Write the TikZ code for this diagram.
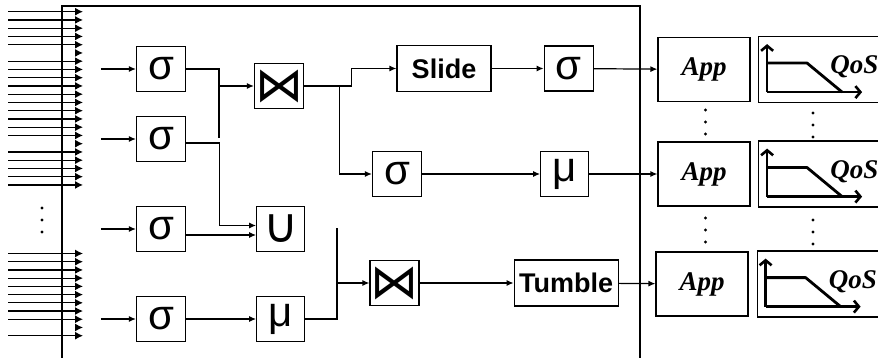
\documentclass[tikz,border=0pt]{standalone}
\usepackage{fontspec}
\setmainfont{Liberation Sans}
\newfontfamily\opfont{DejaVu Sans}
\newfontfamily\appfont{Liberation Serif}
\usetikzlibrary{arrows.meta, positioning}

\begin{document}
\begin{tikzpicture}[
                    x=1pt, y=-1pt,
                    node distance=20pt,
                    op/.style={rectangle, draw, line width=1.2pt, minimum width=49pt, minimum height=45pt, inner sep=0pt, font=\fontsize{42}{42}\selectfont},
                    joinop/.style={op, font=\opfont\fontsize{48}{48}\selectfont},
                    unionop/.style={op, font=\opfont\fontsize{48}{48}\selectfont},
                    window/.style={op, minimum width=94pt, minimum height=46pt, font=\bfseries\fontsize{27}{27}\selectfont},
                    app/.style={rectangle, draw, line width=1.2pt, minimum width=92pt, minimum height=64pt, inner sep=0pt, font=\appfont\bfseries\itshape\fontsize{27}{27}\selectfont},
                    qosbox/.style={rectangle, draw, line width=1.2pt, minimum width=130pt, minimum height=66pt},
                    qoslabel/.style={inner sep=0pt, anchor=west, font=\appfont\bfseries\itshape\fontsize{27}{27}\selectfont},
                    curve/.style={line width=2.6pt, -{Straight Barb[length=5pt,width=12pt]}},
                    wire/.style={draw, line width=1.2pt},
                    line/.style={draw, line width=1.2pt, -{Latex[length=7pt,width=6pt]}},
                    feed/.style={draw, line width=1.2pt, -{Latex[length=8pt,width=8pt]}}
                ]
                    \useasboundingbox (0,0) rectangle (878,358);

                    % Operator network frame
                    \draw[wire] (62,358) |- (640,6) -- (640,358);

                    % Incoming streams
                    \foreach \k in {0,...,21}
                        \draw[feed] (75,{11.7+8.25*\k}) -- (83,{11.7+8.25*\k});
                    \foreach \k in {0,1,2,3,4,6,7,8,9,10,11,12,13,14,15,17,18,19,20,21}
                        \draw[wire] (8,{11.7+8.25*\k}) -- (78,{11.7+8.25*\k});
                    \foreach \k in {0,...,10}
                        \draw[feed] (75,{253.5+8.22*\k}) -- (83,{253.5+8.22*\k});
                    \foreach \k in {0,1,2,3,4,5,6,7,8,10}
                        \draw[wire] (8,{253.5+8.22*\k}) -- (78,{253.5+8.22*\k});
                    \foreach \y in {208,220,232}
                        \fill (42,\y) circle (1.7pt);

                    % Place nodes
                    \node [op] (sig1) at (161,69) {σ};
                    \node [op] (sig2) at (161,139) {σ};
                    \node [op] (sig3) at (161,229) {σ};
                    \node [op] (sig4) at (161,319) {σ};
                    \node [joinop] (join1) at (279,86) {⋈};
                    \node [unionop, minimum width=48pt, right=70pt of sig3] (union) {∪};
                    \node [op, minimum width=48pt, right=70pt of sig4] (mub) {μ};
                    \node [joinop] (join2) at (394.5,283) {⋈};
                    \node [window] (slide) at (444,68.5) {Slide};
                    \node [op, right=52pt of slide] (sigt) {σ};
                    \node [op] (sigm) at (397,174) {σ};
                    \node [op, minimum width=48pt, right=118pt of sigm] (mum) {μ};
                    \node [window, minimum width=104pt, right=94pt of join2] (tumble) {Tumble};
                    \node [app] (app1) at (704,69.5) {App};
                    \node [app] (app2) at (704,174) {App};
                    \node [app] (app3) at (702,284) {App};
                    \node [qosbox, right=7.5pt of app1] (qos1) {};
                    \node [qosbox, right=7.5pt of app2] (qos2) {};
                    \node [qosbox, right=8pt of app3] (qos3) {};

                    % QoS graphs
                    \foreach \q in {qos1,qos2,qos3} {
                        \draw[curve] ([shift={(9,-11)}]\q.south west) -- ([shift={(9,-59)}]\q.south west);
                        \draw[curve] ([shift={(9,-11)}]\q.south west) -- ([shift={(104,-11)}]\q.south west);
                        \draw[line width=2.8pt, line join=round] ([shift={(9,-40)}]\q.south west) -- ([shift={(49,-40)}]\q.south west) -- ([shift={(84,-11)}]\q.south west);
                        \node[qoslabel] (\q-lab) at ([shift={(72,-36)}]\q.south west) {QoS};
                    }
                    \foreach \y in {110,122,134,218,230,242}
                        \fill (705.5,\y) circle (1.7pt);
                    \foreach \y in {113,125,137,220,232,244}
                        \fill (813,\y) circle (1.7pt);

                    % Draw edges
                    \foreach \s in {sig1,sig2,sig3,sig4}
                        \path [line] ([xshift=-35pt]\s.west) -- (\s.west);
                    \coordinate (fork1) at (219,138);
                    \coordinate (fork2) at (337,228);
                    \path [wire] (sig1.east) -| (fork1);
                    \path [line] (fork1 |- join1) -- (join1.west);
                    \path [line] ([yshift=-4pt]sig2.east) -- ++(33,0) |- ([yshift=3.5pt]union.west);
                    \path [line] ([yshift=-6pt]sig3.east) -- ([yshift=-6pt]union.west);
                    \path [line] (sig4) -- (mub);
                    \path [wire] (mub.east) -| (fork2);
                    \path [line] (fork2 |- join2) -- (join2.west);
                    \path [line] (join1.east) -- ++(47,0) |- (slide.west);
                    \path [line] (join1.east) -- ++(35,0) |- (sigm.west);
                    \path [line] (slide) -- (sigt);
                    \path [line] (sigt) -- (app1);
                    \path [line] (sigm) -- (mum);
                    \path [line] (mum) -- (app2);
                    \path [line] (join2) -- (tumble);
                    \path [line] (tumble) -- (app3);
            \end{tikzpicture}
\end{document}
